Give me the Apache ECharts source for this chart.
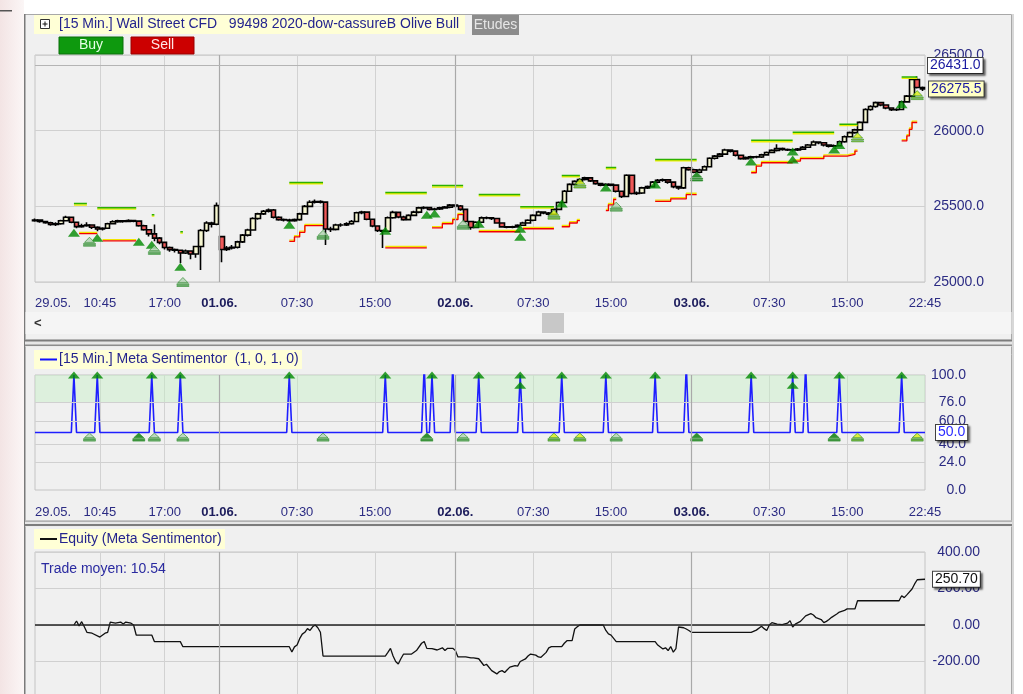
<!DOCTYPE html>
<html><head><meta charset="utf-8">
<script src="https://cdn.jsdelivr.net/npm/echarts/dist/echarts.min.js"></script>
<style>html,body{margin:0;padding:0;background:#fff;}#c{width:1023px;height:694px;}</style>
</head><body><div id="c"></div>
<script>
const FONT = '"Liberation Sans", Arial, sans-serif';
const slotCount = 344; // 15-min slots
const timeLabels = {0:'29.05.',25:'10:45',50:'17:00',71:'01.06.',101:'07:30',131:'15:00',162:'02.06.',192:'07:30',222:'15:00',253:'03.06.',283:'07:30',313:'15:00',343:'22:45'};
const dayStarts = [71,162,253];
const priceTicks = [25000, 26500, 500];
const sentimentTicks = [0,24,40,60,76,100];
const equityTicks = [-400, 400, 200];

// 30-min candles [open, close, low, high], one every 2 slots
const candles = [
[25405,25410,25398,25420],[25410,25400,25392,25415],[25400,25392,25385,25405],[25392,25380,25372,25398],[25380,25385,25370,25395],
[25385,25405,25378,25412],[25405,25428,25400,25438],[25428,25395,25388,25432],[25395,25366,25355,25400],[25366,25372,25358,25385],
[25372,25377,25365,25395],[25377,25362,25350,25382],[25362,25350,25335,25368],[25350,25355,25340,25362],[25355,25385,25350,25392],
[25385,25398,25380,25408],[25398,25404,25392,25412],[25404,25400,25392,25410],[25400,25406,25395,25414],[25406,25402,25395,25412],
[25402,25372,25365,25408],[25372,25345,25338,25378],[25345,25318,25300,25350],[25318,25290,25270,25380],[25290,25262,25250,25298],
[25262,25228,25215,25268],[25228,25214,25200,25235],[25214,25210,25195,25222],[25210,25192,25125,25215],[25192,25205,25185,25215],
[25205,25185,25150,25210],[25185,25235,25160,25240],[25235,25340,25080,25350],[25340,25390,25330,25402],[25390,25382,25360,25398],
[25382,25505,25375,25525],[25300,25215,25130,25305],[25215,25225,25205,25238],[25225,25230,25215,25245],[25230,25265,25222,25272],
[25265,25310,25258,25318],[25310,25344,25300,25352],[25344,25420,25338,25428],[25420,25450,25412,25458],[25450,25468,25442,25476],
[25468,25476,25460,25485],[25476,25428,25420,25482],[25428,25412,25405,25435],[25412,25410,25400,25420],[25410,25405,25395,25418],
[25405,25412,25398,25420],[25412,25450,25405,25458],[25450,25500,25445,25508],[25500,25527,25494,25540],[25527,25532,25518,25545],
[25532,25528,25518,25540],[25528,25350,25245,25532],[25350,25348,25330,25365],[25348,25377,25340,25385],[25377,25377,25365,25388],
[25377,25385,25370,25395],[25385,25400,25378,25410],[25400,25458,25395,25465],[25458,25462,25448,25470],[25462,25415,25408,25468],
[25415,25370,25362,25420],[25370,25340,25330,25375],[25340,25335,25225,25345],[25335,25425,25330,25432],[25425,25460,25418,25470],
[25460,25430,25422,25465],[25430,25412,25405,25438],[25412,25440,25408,25448],[25440,25462,25435,25470],[25462,25490,25455,25498],
[25490,25492,25480,25500],[25492,25480,25472,25498],[25480,25482,25472,25490],[25482,25490,25475,25497],[25490,25495,25485,25503],
[25495,25508,25488,25515],[25508,25502,25492,25512],[25502,25480,25470,25508],[25480,25400,25395,25485],[25400,25360,25345,25405],
[25360,25395,25355,25402],[25395,25424,25390,25432],[25424,25425,25415,25433],[25425,25420,25410,25430],[25420,25390,25385,25425],
[25390,25364,25358,25395],[25364,25362,25355,25370],[25362,25364,25356,25372],[25364,25375,25358,25382],[25375,25390,25370,25398],
[25390,25408,25385,25415],[25408,25440,25402,25448],[25440,25463,25435,25470],[25463,25456,25448,25468],[25456,25448,25440,25462],
[25448,25480,25442,25488],[25480,25525,25475,25532],[25525,25600,25520,25608],[25600,25645,25595,25652],[25645,25665,25640,25672],
[25665,25677,25658,25685],[25677,25688,25670,25696],[25688,25668,25660,25694],[25668,25650,25642,25672],[25650,25640,25632,25655],
[25640,25645,25635,25652],[25645,25640,25632,25650],[25640,25600,25592,25645],[25600,25565,25555,25605],[25565,25705,25560,25712],
[25705,25585,25578,25710],[25585,25588,25575,25598],[25588,25622,25582,25630],[25622,25630,25615,25638],[25630,25660,25625,25668],
[25660,25672,25652,25680],[25672,25675,25662,25684],[25675,25660,25650,25680],[25660,25630,25620,25665],[25630,25622,25610,25635],
[25622,25755,25615,25762],[25755,25742,25735,25762],[25742,25725,25718,25748],[25725,25740,25718,25748],[25740,25762,25735,25770],
[25762,25818,25758,25825],[25818,25832,25810,25840],[25832,25845,25825,25852],[25845,25872,25840,25880],[25872,25865,25855,25878],
[25865,25838,25830,25870],[25838,25815,25808,25842],[25815,25822,25808,25830],[25822,25828,25815,25835],[25828,25826,25818,25835],
[25826,25840,25820,25848],[25840,25856,25835,25862],[25856,25870,25850,25878],[25870,25882,25862,25910],[25882,25876,25868,25888],
[25876,25873,25865,25882],[25873,25872,25862,25880],[25872,25878,25865,25885],[25878,25890,25872,25898],[25890,25905,25885,25912],
[25905,25925,25900,25935],[25925,25920,25910,25930],[25920,25905,25895,25925],[25905,25898,25888,25910],[25898,25900,25890,25908],
[25900,25927,25895,25935],[25927,25960,25920,25968],[25960,25987,25955,25995],[25987,26005,25980,26012],[26005,26055,26000,26062],
[26055,26140,26050,26148],[26140,26160,26132,26168],[26160,26185,26152,26192],[26185,26170,26162,26190],[26170,26150,26142,26175],
[26150,26138,26130,26155],[26138,26140,26130,26148],[26140,26190,26135,26198],[26190,26228,26185,26235],[26228,26338,26222,26345],
[26338,26285,26278,26360],[26285,26275.5,26262,26292]
];
const lastHigh = 26431.0;
const lastPrice = 26275.5;

// trade levels: [startSlot, endSlot, price]
const targets = [[15,20,25518],[24,39,25491],[45,46,25445],[56,57,25332],[98,111,25657],[135,151,25591],[153,165,25637],[171,187,25578],[187,200,25498],[203,210,25704],[220,224,25757],[239,255,25810],[276,292,25936],[292,308,25989],[310,317,26042],[334,340,26355]];
const stops = [
 [[17,25319],[24,25319]],
 [[26,25272],[39,25272]],
 [[98,25268],[100,25298],[102,25328],[104,25372],[111,25372]],
 [[135,25226],[151,25226]],
 [[153,25357],[157,25385],[161,25412],[163,25445],[165,25445]],
 [[171,25332],[187,25332]],
 [[188,25352],[200,25352]],
 [[203,25365],[206,25390],[209,25405],[210,25405]],
 [[220,25471],[221,25510],[223,25545],[224,25545]],
 [[239,25533],[245,25549],[251,25578],[255,25578]],
 [[276,25722],[278,25766],[280,25788],[292,25788]],
 [[292,25799],[295,25815],[304,25832],[313,25843],[316,25865],[317,25865]],
 [[334,25932],[336,25965],[337,26009],[338,26054],[340,26054]]
];
const entries = [[15,25325],[24,25292],[40,25266],[45,25246],[56,25100],[98,25378],[135,25339],[151,25445],[154,25452],[171,25385],[187,25352],[187,25299],[203,25518],[220,25624],[239,25644],[276,25797],[292,25810],[292,25863],[308,25876],[310,25905],[334,26175]];
const exits = [[21,25266,'h'],[46,25212,'h'],[57,25000,'h'],[111,25312,'h'],[165,25378,'h'],[200,25445,'y'],[210,25651,'y'],[224,25498,'h'],[255,25697,'s'],[317,25956,'y'],[340,26235,'y']];

// Meta Sentimentor: base level, spikes [slot, peak]
const sentimentBase = 50;
const spikes = [[15,100],[24,100],[45,100],[56,100],[98,100],[135,100],[150,108],[153,100],[161,108],[171,100],[187,100],[203,100],[220,100],[239,100],[251,108],[276,100],[292,100],[297,108],[310,100],[334,100]];
const sentArrows = [[15,100],[24,100],[45,100],[56,100],[98,100],[135,100],[153,100],[171,100],[187,100],[187,91],[203,100],[220,100],[239,100],[276,100],[292,100],[292,91],[310,100],[334,100]];
const sentExits = [[21,'h'],[40,'s'],[46,'h'],[57,'h'],[111,'h'],[151,'s'],[165,'h'],[200,'y'],[210,'y'],[224,'h'],[255,'s'],[308,'s'],[317,'y'],[340,'y']];
const sentExitLevel = 46;
const sentLast = 50.0;

// Equity curve [slot, value]
const equity = [[15,0],[16,22],[17,-5],[18,18],[19,-10],[20,-40],[22,-45],[25,-66],[27,-45],[28,-40],[29,16],[31,10],[33,16],[34,5],[35,16],[37,10],[38,0],[39,-55],[45,-55],[46,-91],[56,-91],[57,-119],[98,-119],[99,-148],[100,-120],[101,-110],[102,-75],[103,-50],[104,-40],[105,-20],[106,-30],[107,-10],[108,0],[109,-15],[110,-40],[111,-170],[135,-170],[136,-150],[137,-128],[138,-170],[139,-200],[140,-214],[141,-185],[142,-160],[145,-160],[147,-140],[149,-100],[150,-91],[151,-128],[153,-130],[155,-137],[157,-125],[158,-140],[159,-128],[161,-128],[162,-140],[163,-175],[166,-175],[168,-180],[169,-180],[171,-185],[173,-222],[174,-215],[176,-250],[178,-268],[179,-255],[180,-250],[181,-260],[182,-245],[183,-231],[185,-222],[186,-225],[187,-200],[189,-186],[190,-170],[191,-159],[193,-165],[194,-175],[195,-177],[197,-150],[198,-125],[199,-119],[203,-119],[204,-100],[205,-86],[207,-86],[208,-22],[209,-10],[210,0],[219,0],[220,-30],[221,-49],[222,-55],[224,-91],[239,-91],[240,-110],[242,-131],[243,-125],[244,-140],[245,-118],[246,-149],[247,-130],[248,-11],[250,-15],[251,-22],[252,-30],[253,-40],[276,-40],[278,-28],[280,-7],[281,-20],[282,-30],[283,0],[284,13],[286,5],[288,2],[290,10],[291,24],[292,-11],[293,5],[295,20],[297,50],[299,62],[300,55],[301,40],[303,30],[304,13],[305,20],[306,30],[307,42],[309,60],[310,71],[312,80],[313,88],[316,88],[317,133],[333,133],[334,160],[335,150],[336,165],[338,197],[339,225],[340,248],[343,250.7]];
const equityLast = 250.70;
const tradeMoyen = 'Trade moyen: 10.54';

// ---------- build ----------
const cats = []; for (let i = 0; i < slotCount; i++) cats.push(String(i));
const candleData = cats.map((c, i) => (i % 2 === 0 && candles[i / 2]) ? candles[i / 2] : '-');
const sentLine = [[0, sentimentBase]];
spikes.forEach(([i, p]) => { sentLine.push([i - 1, sentimentBase], [i, p], [i + 1, sentimentBase]); });
sentLine.push([slotCount - 1, sentimentBase]);

const LBL = '#2b2b83';
const exitPath = 'path://M6,0L11,4.6H1Z M0,5.6H12V6.4H0Z M0,7.2H12V8H0Z';
const exitColor = {h: '#b2d2b2', y: '#d6ee10', s: '#007a00'};
const grids = [
  {left: 35, top: 55, width: 890, height: 227},
  {left: 35, top: 375, width: 890, height: 115},
  {left: 35, top: 552, width: 890, height: 146}
].map(g => Object.assign(g, {show: true, borderColor: '#c4c4c4', borderWidth: 1, backgroundColor: 'transparent', containLabel: false, outerBoundsMode: 'none'}));

function xAxis(idx, showLabels, margin) {
  return {
    type: 'category', gridIndex: idx, data: cats, boundaryGap: false,
    axisLine: {show: false}, axisTick: {show: false},
    axisLabel: {
      show: showLabels, interval: (i) => timeLabels[i] !== undefined, margin: margin,
      color: LBL, fontSize: 13, fontFamily: FONT, alignMinLabel: 'left', showMinLabel: true, showMaxLabel: true,
      formatter: (v, i) => { const t = timeLabels[i]; if (t === undefined) return ''; return /\.$/.test(t) && i > 0 ? '{b|' + t + '}' : t; },
      rich: {b: {fontWeight: 'bold', color: '#1c1c5c', fontSize: 13, fontFamily: FONT}}
    },
    splitLine: {show: true, interval: (i) => timeLabels[i] !== undefined && i > 0 && i < slotCount - 1, lineStyle: {color: '#d2d2d2', width: 1}}
  };
}
const dayLines = dayStarts.map(d => ({xAxis: d, lineStyle: {color: '#a9a9a9', width: 1.2, type: 'solid'}, label: {show: false}}));
const boxLabel = (txt, color, bg, dist) => ({
  show: true, position: 'end', distance: dist, formatter: txt, color: color, fontSize: 14, fontFamily: FONT,
  backgroundColor: bg, borderColor: '#404040', borderWidth: 1, padding: [1, 2, 0, 2],
  shadowColor: 'rgba(0,0,0,0.45)', shadowOffsetX: 2, shadowOffsetY: 2, shadowBlur: 2
});

const series = [];
series.push({
  type: 'candlestick', xAxisIndex: 0, yAxisIndex: 0, data: candleData, barWidth: 5,
  itemStyle: {color: '#f6f6d0', color0: '#ee5858', borderColor: '#000', borderColor0: '#000', borderWidth: 1.6},
  markLine: {
    silent: true, symbol: 'none', animation: false,
    data: dayLines.concat([
      {yAxis: lastHigh, lineStyle: {color: '#b4b4b4', width: 1, type: 'solid'}, label: boxLabel(lastHigh.toFixed(1), '#1a1aa0', '#ffffff', 3)},
      {yAxis: lastPrice, lineStyle: {color: 'rgba(0,0,0,0)', width: 1, type: 'solid'}, label: boxLabel(lastPrice.toFixed(1), '#1a1aa0', '#ffffc4', 4)}
    ])
  }
});
targets.forEach(([a, b, p]) => series.push({
  type: 'line', xAxisIndex: 0, yAxisIndex: 0, data: [[a, p], [b, p]], symbol: 'none', silent: true, z: 3,
  lineStyle: {color: '#2cb000', width: 1.5, shadowColor: '#eef000', shadowOffsetY: 1.3, shadowBlur: 0}
}));
stops.forEach(pts => series.push({
  type: 'line', xAxisIndex: 0, yAxisIndex: 0, data: pts, step: 'end', symbol: 'none', silent: true, z: 3,
  lineStyle: {color: '#f20000', width: 1.3, shadowColor: '#f2e400', shadowOffsetY: -1.3, shadowBlur: 0}
}));
series.push({
  type: 'scatter', xAxisIndex: 0, yAxisIndex: 0, data: entries, symbol: 'triangle', symbolSize: [12, 8], clip: false, z: 4,
  itemStyle: {color: '#008a00'}
});
series.push({
  type: 'scatter', xAxisIndex: 0, yAxisIndex: 0, clip: false, z: 4, symbol: exitPath, symbolSize: [12, 9],
  data: exits.map(([i, p, t]) => ({value: [i, p], itemStyle: {color: exitColor[t], borderColor: '#2a8a2a', borderWidth: 0.8}}))
});
// Sentimentor
series.push({
  type: 'line', xAxisIndex: 1, yAxisIndex: 1, data: sentLine, symbol: 'none', silent: true, z: 3,
  lineStyle: {color: '#1e1eff', width: 1.6},
  markArea: {silent: true, itemStyle: {color: 'rgba(196,240,196,0.42)'}, data: [[{yAxis: 76}, {yAxis: 100}]]},
  markLine: {
    silent: true, symbol: 'none', animation: false,
    data: [24, 40, 60, 76].map(v => ({yAxis: v, lineStyle: {color: '#d0d0d0', width: 1, type: 'solid'}, label: {show: false}}))
      .concat(dayLines)
      .concat([{yAxis: sentLast, lineStyle: {color: 'rgba(0,0,0,0)', type: 'solid'}, label: boxLabel(sentLast.toFixed(1), '#2a2aff', '#ffffff', 11)}])
  }
});
series.push({
  type: 'scatter', xAxisIndex: 1, yAxisIndex: 1, data: sentArrows, symbol: 'triangle', symbolSize: [12, 7], clip: false, z: 4,
  itemStyle: {color: '#008a00'}
});
series.push({
  type: 'scatter', xAxisIndex: 1, yAxisIndex: 1, clip: false, z: 4, symbol: exitPath, symbolSize: [12, 8],
  data: sentExits.map(([i, t]) => ({value: [i, sentExitLevel], itemStyle: {color: exitColor[t], borderColor: '#2a8a2a', borderWidth: 0.8}}))
});
// Equity
series.push({
  type: 'line', xAxisIndex: 2, yAxisIndex: 2, data: equity, symbol: 'none', silent: true, z: 3,
  lineStyle: {color: '#111', width: 1.3},
  markLine: {
    silent: true, symbol: 'none', animation: false,
    data: [{yAxis: 0, lineStyle: {color: '#222', width: 1.5, type: 'solid'}, label: {show: false}}]
      .concat(dayLines)
      .concat([{yAxis: equityLast, lineStyle: {color: 'rgba(0,0,0,0)', type: 'solid'}, label: boxLabel(equityLast.toFixed(2), '#111', '#ffffff', 8)}])
  }
});

const yLabel = (margin) => ({color: LBL, fontSize: 14, fontFamily: FONT, align: 'right', margin: margin});
const option = {
  animation: false,
  backgroundColor: 'transparent',
  grid: grids,
  xAxis: [xAxis(0, true, 15), xAxis(1, true, 16), xAxis(2, false, 14)],
  yAxis: [
    {type: 'value', gridIndex: 0, position: 'right', min: priceTicks[0], max: priceTicks[1], interval: priceTicks[2],
     axisLine: {show: false}, axisTick: {show: false}, axisLabel: Object.assign(yLabel(59), {formatter: v => v.toFixed(1)}),
     splitLine: {lineStyle: {color: '#d0d0d0'}}},
    {type: 'value', gridIndex: 1, position: 'right', min: 0, max: 100,
     axisLine: {show: false}, axisTick: {show: false}, axisLabel: Object.assign(yLabel(41), {customValues: sentimentTicks, formatter: v => v.toFixed(1)}),
     splitLine: {show: false}},
    {type: 'value', gridIndex: 2, position: 'right', min: equityTicks[0], max: equityTicks[1], interval: equityTicks[2],
     axisLine: {show: false}, axisTick: {show: false}, axisLabel: Object.assign(yLabel(55), {formatter: v => v <= -400 ? '' : v.toFixed(2)}),
     splitLine: {lineStyle: {color: '#d0d0d0'}}}
  ],
  graphic: {elements: [
    {type: 'rect', z: -20, shape: {x: 0, y: 0, width: 24, height: 694}, style: {fill: new echarts.graphic.LinearGradient(0, 0, 1, 0, [{offset: 0, color: '#f3e4e4'}, {offset: 1, color: '#fbf6f6'}])}},
    {type: 'rect', z: -20, shape: {x: 0, y: 10, width: 12, height: 1.5}, style: {fill: '#555'}},
    {type: 'rect', z: -19, shape: {x: 24.5, y: 14.5, width: 987, height: 690}, style: {fill: '#f0f0f0', stroke: '#a8a8a8', lineWidth: 1}},
    {type: 'rect', z: -18, shape: {x: 24, y: 14, width: 1.5, height: 680}, style: {fill: '#7a7a7a'}},
    {type: 'rect', z: -18, shape: {x: 1012, y: 14, width: 2, height: 680}, style: {fill: '#d8d8d8'}},
    // header
    {type: 'rect', shape: {x: 34, y: 15, width: 431, height: 19}, style: {fill: '#ffffd6'}},
    {type: 'rect', shape: {x: 40.5, y: 19.5, width: 9, height: 9}, style: {fill: '#fff', stroke: '#333', lineWidth: 1}},
    {type: 'rect', shape: {x: 42.5, y: 23.5, width: 5, height: 1}, style: {fill: '#111'}},
    {type: 'rect', shape: {x: 44.5, y: 21.5, width: 1, height: 5}, style: {fill: '#111'}},
    {type: 'text', x: 59, y: 24.5, style: {text: '[15 Min.] Wall Street CFD   99498 2020-dow-cassureB Olive Bull', fill: '#24248e', font: '14px ' + FONT, textVerticalAlign: 'middle'}},
    {type: 'rect', shape: {x: 472, y: 15, width: 47, height: 20}, style: {fill: '#8c8c8c'}},
    {type: 'text', x: 495.5, y: 25, style: {text: 'Etudes', fill: '#e6e6e6', font: '14px ' + FONT, textAlign: 'center', textVerticalAlign: 'middle'}},
    {type: 'rect', shape: {x: 59, y: 37, width: 64, height: 17}, style: {fill: '#0e990e', stroke: '#0a6e0a', lineWidth: 1}},
    {type: 'text', x: 91, y: 45.5, style: {text: 'Buy', fill: '#e6ffe6', font: '14px ' + FONT, textAlign: 'center', textVerticalAlign: 'middle'}},
    {type: 'rect', shape: {x: 131, y: 37, width: 63, height: 17}, style: {fill: '#cc0000', stroke: '#990000', lineWidth: 1}},
    {type: 'text', x: 162.5, y: 45.5, style: {text: 'Sell', fill: '#ffe6e6', font: '14px ' + FONT, textAlign: 'center', textVerticalAlign: 'middle'}},
    // scrollbar
    {type: 'rect', z: -17, shape: {x: 25.5, y: 312, width: 986, height: 22}, style: {fill: '#f5f5f5'}},
    {type: 'text', x: 34, y: 323, style: {text: '<', fill: '#333', font: 'bold 13px ' + FONT, textVerticalAlign: 'middle'}},
    {type: 'rect', shape: {x: 542, y: 313, width: 22, height: 20}, style: {fill: '#c8c8c8'}},
    // separators
    {type: 'rect', z: -16, shape: {x: 25, y: 339.5, width: 987, height: 7}, style: {fill: '#e6e6e6'}},
    {type: 'rect', z: -15, shape: {x: 25, y: 339.5, width: 987, height: 2}, style: {fill: '#7c7c7c'}},
    {type: 'rect', z: -15, shape: {x: 25, y: 344.5, width: 987, height: 1.6}, style: {fill: '#8c8c8c'}},
    {type: 'rect', z: -16, shape: {x: 25, y: 520.5, width: 987, height: 6}, style: {fill: '#e6e6e6'}},
    {type: 'rect', z: -15, shape: {x: 25, y: 520.5, width: 987, height: 1.2}, style: {fill: '#a0a0a0'}},
    {type: 'rect', z: -15, shape: {x: 25, y: 524, width: 987, height: 2}, style: {fill: '#7c7c7c'}},
    // legends
    {type: 'rect', shape: {x: 34, y: 350, width: 268, height: 19}, style: {fill: '#ffffd6'}},
    {type: 'rect', shape: {x: 40, y: 358.5, width: 17, height: 2}, style: {fill: '#1010ff'}},
    {type: 'text', x: 59, y: 359.5, style: {text: '[15 Min.] Meta Sentimentor  (1, 0, 1, 0)', fill: '#24248e', font: '14px ' + FONT, textVerticalAlign: 'middle'}},
    {type: 'rect', shape: {x: 34, y: 529, width: 191, height: 20}, style: {fill: '#ffffd6'}},
    {type: 'rect', shape: {x: 40, y: 538, width: 17, height: 2}, style: {fill: '#111'}},
    {type: 'text', x: 59, y: 539, style: {text: 'Equity (Meta Sentimentor)', fill: '#24248e', font: '14px ' + FONT, textVerticalAlign: 'middle'}},
    {type: 'text', z: 10, x: 41, y: 569, style: {text: tradeMoyen, fill: '#2a2aa0', font: '14px ' + FONT, textVerticalAlign: 'middle'}}
  ]},
  series: series
};
const chart = echarts.init(document.getElementById('c'), null, {renderer: 'canvas', width: 1023, height: 694});
chart.setOption(option);
</script>
</body></html>
